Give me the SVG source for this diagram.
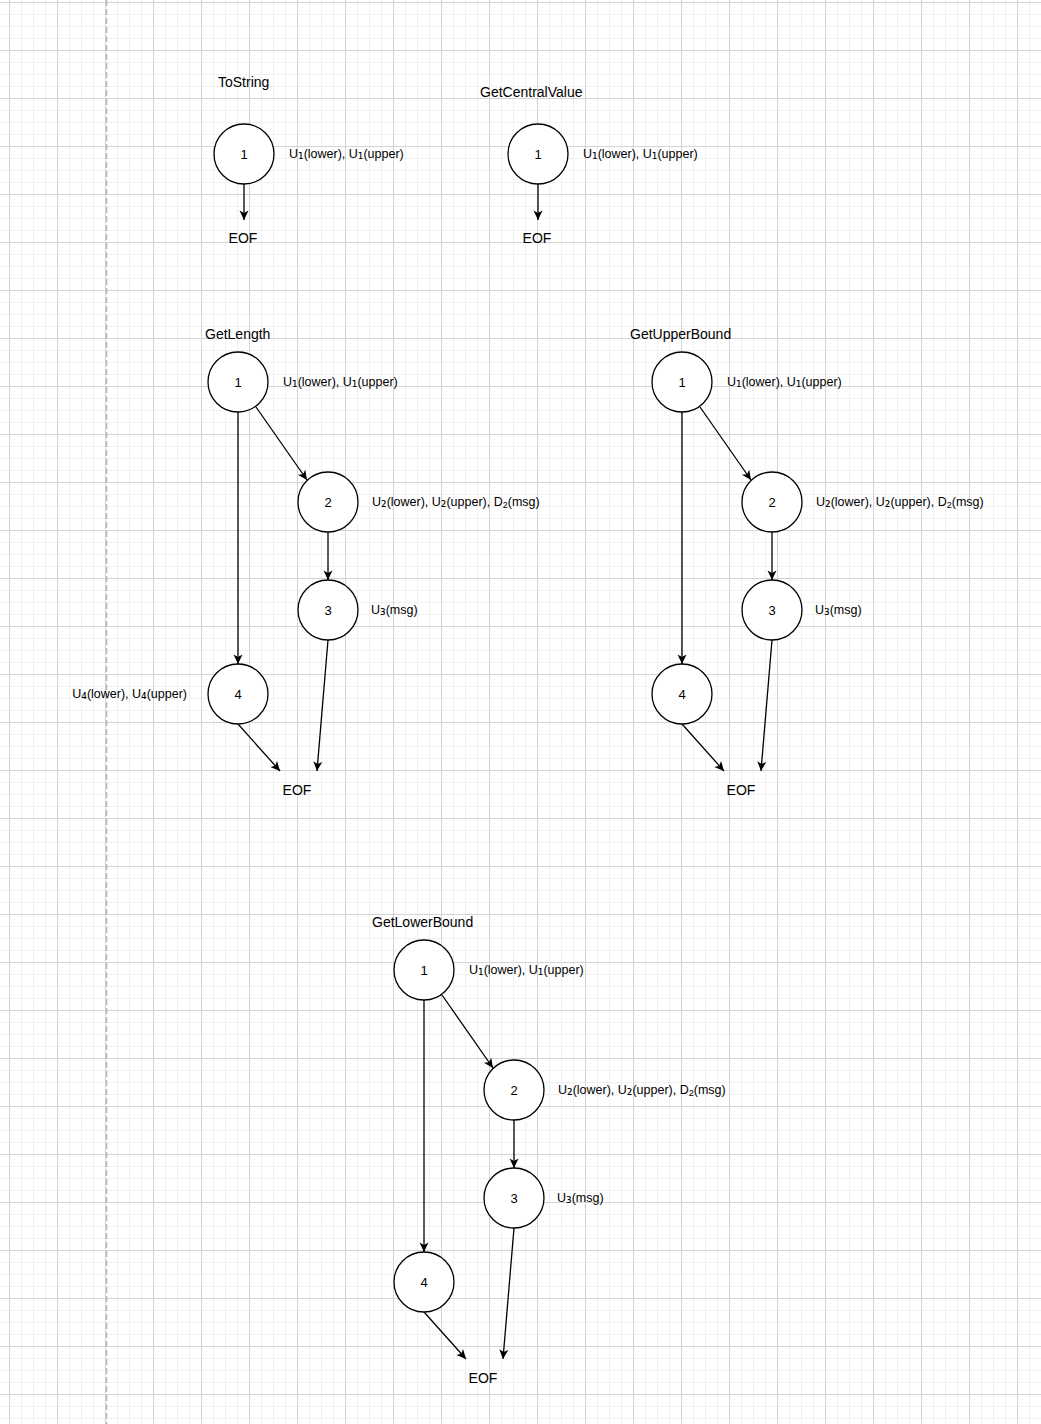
<svg xmlns="http://www.w3.org/2000/svg" width="1041" height="1424" viewBox="0 0 1041 1424">
<defs>
<pattern id="grid" x="9" y="2" width="48" height="48" patternUnits="userSpaceOnUse">
<rect x="0" y="0" width="48" height="48" fill="#ffffff"/>
<rect x="12" y="0" width="1" height="48" fill="#f1f1f1"/>
<rect x="24" y="0" width="1" height="48" fill="#f1f1f1"/>
<rect x="36" y="0" width="1" height="48" fill="#f1f1f1"/>
<rect x="0" y="12" width="48" height="1" fill="#f1f1f1"/>
<rect x="0" y="24" width="48" height="1" fill="#f1f1f1"/>
<rect x="0" y="36" width="48" height="1" fill="#f1f1f1"/>
<rect x="0" y="0" width="1" height="48" fill="#d4d4d4"/>
<rect x="0" y="0" width="48" height="1" fill="#d4d4d4"/>
</pattern>
<marker id="arr" viewBox="-10 -5 11 10" refX="0" refY="0" markerWidth="11" markerHeight="10" markerUnits="userSpaceOnUse" orient="auto">
<path d="M-9.5,-4.5 L0,0 L-9.5,4.5 L-7,0 Z" fill="#000"/>
</marker>
<style>
.n{fill:#fff;stroke:#000;stroke-width:1.3}
.e{stroke:#000;stroke-width:1.3;fill:none;marker-end:url(#arr)}
text{font-family:"Liberation Sans",Arial,sans-serif;fill:#000}
.num{font-size:13px;text-anchor:middle;dominant-baseline:central}
.lbl{font-size:12.5px;dominant-baseline:central}
.ttl{font-size:14px;dominant-baseline:central}
.eof{font-size:14px;text-anchor:middle;dominant-baseline:central}
.s{font-size:9px}
.u{font-family:"DejaVu Sans",sans-serif;font-size:14px}
</style>
</defs>
<rect x="0" y="0" width="1041" height="1424" fill="url(#grid)"/>
<line x1="106.5" y1="0" x2="106.5" y2="1424" stroke="#b8b8b8" stroke-width="1.6" stroke-dasharray="6 3"/>

<g id="connectors">
<line class="e" x1="244" y1="184" x2="244" y2="220"/>
<line class="e" x1="538" y1="184" x2="538" y2="220"/>

<line class="e" x1="238" y1="412" x2="238" y2="664"/>
<line class="e" x1="256" y1="407" x2="307" y2="480"/>
<line class="e" x1="328" y1="532" x2="328" y2="580"/>
<line class="e" x1="328" y1="640" x2="317" y2="771"/>
<line class="e" x1="238" y1="724" x2="280" y2="771"/>

<line class="e" x1="682" y1="412" x2="682" y2="664"/>
<line class="e" x1="700" y1="407" x2="751" y2="480"/>
<line class="e" x1="772" y1="532" x2="772" y2="580"/>
<line class="e" x1="772" y1="640" x2="761" y2="771"/>
<line class="e" x1="682" y1="724" x2="724" y2="771"/>

<line class="e" x1="424" y1="1000" x2="424" y2="1252"/>
<line class="e" x1="442" y1="995" x2="493" y2="1068"/>
<line class="e" x1="514" y1="1120" x2="514" y2="1168"/>
<line class="e" x1="514" y1="1228" x2="503" y2="1359"/>
<line class="e" x1="424" y1="1312" x2="466" y2="1359"/>
</g>

<g id="tostring">
<text class="ttl" x="218" y="82">ToString</text>
<g id="ts-1"><circle class="n" cx="244" cy="154" r="30"/><text class="num" x="244" y="154">1</text></g>
<text class="lbl" x="289" y="154">U<tspan class="u">₁</tspan>(lower), U<tspan class="u">₁</tspan>(upper)</text>
<text id="ts-eof" class="eof" x="243" y="238">EOF</text>
</g>

<g id="getcentralvalue">
<text class="ttl" x="480" y="92">GetCentralValue</text>
<g id="gc-1"><circle class="n" cx="538" cy="154" r="30"/><text class="num" x="538" y="154">1</text></g>
<text class="lbl" x="583" y="154">U<tspan class="u">₁</tspan>(lower), U<tspan class="u">₁</tspan>(upper)</text>
<text id="gc-eof" class="eof" x="537" y="238">EOF</text>
</g>

<g id="getlength">
<text class="ttl" x="205" y="334">GetLength</text>
<g id="gl-1"><circle class="n" cx="238" cy="382" r="30"/><text class="num" x="238" y="382">1</text></g>
<text class="lbl" x="283" y="382">U<tspan class="u">₁</tspan>(lower), U<tspan class="u">₁</tspan>(upper)</text>
<g id="gl-2"><circle class="n" cx="328" cy="502" r="30"/><text class="num" x="328" y="502">2</text></g>
<text class="lbl" x="372" y="502">U<tspan class="u">₂</tspan>(lower), U<tspan class="u">₂</tspan>(upper), D<tspan class="s" dy="3">2</tspan><tspan dy="-3">(msg)</tspan></text>
<g id="gl-3"><circle class="n" cx="328" cy="610" r="30"/><text class="num" x="328" y="610">3</text></g>
<text class="lbl" x="371" y="610">U<tspan class="u">₃</tspan>(msg)</text>
<g id="gl-4"><circle class="n" cx="238" cy="694" r="30"/><text class="num" x="238" y="694">4</text></g>
<text class="lbl" x="187" y="694" text-anchor="end">U<tspan class="u">₄</tspan>(lower), U<tspan class="u">₄</tspan>(upper)</text>
<text id="gl-eof" class="eof" x="297" y="790">EOF</text>
</g>

<g id="getupperbound">
<text class="ttl" x="630" y="334">GetUpperBound</text>
<g id="gu-1"><circle class="n" cx="682" cy="382" r="30"/><text class="num" x="682" y="382">1</text></g>
<text class="lbl" x="727" y="382">U<tspan class="u">₁</tspan>(lower), U<tspan class="u">₁</tspan>(upper)</text>
<g id="gu-2"><circle class="n" cx="772" cy="502" r="30"/><text class="num" x="772" y="502">2</text></g>
<text class="lbl" x="816" y="502">U<tspan class="u">₂</tspan>(lower), U<tspan class="u">₂</tspan>(upper), D<tspan class="s" dy="3">2</tspan><tspan dy="-3">(msg)</tspan></text>
<g id="gu-3"><circle class="n" cx="772" cy="610" r="30"/><text class="num" x="772" y="610">3</text></g>
<text class="lbl" x="815" y="610">U<tspan class="u">₃</tspan>(msg)</text>
<g id="gu-4"><circle class="n" cx="682" cy="694" r="30"/><text class="num" x="682" y="694">4</text></g>
<text id="gu-eof" class="eof" x="741" y="790">EOF</text>
</g>

<g id="getlowerbound">
<text class="ttl" x="372" y="922">GetLowerBound</text>
<g id="gb-1"><circle class="n" cx="424" cy="970" r="30"/><text class="num" x="424" y="970">1</text></g>
<text class="lbl" x="469" y="970">U<tspan class="u">₁</tspan>(lower), U<tspan class="u">₁</tspan>(upper)</text>
<g id="gb-2"><circle class="n" cx="514" cy="1090" r="30"/><text class="num" x="514" y="1090">2</text></g>
<text class="lbl" x="558" y="1090">U<tspan class="u">₂</tspan>(lower), U<tspan class="u">₂</tspan>(upper), D<tspan class="s" dy="3">2</tspan><tspan dy="-3">(msg)</tspan></text>
<g id="gb-3"><circle class="n" cx="514" cy="1198" r="30"/><text class="num" x="514" y="1198">3</text></g>
<text class="lbl" x="557" y="1198">U<tspan class="u">₃</tspan>(msg)</text>
<g id="gb-4"><circle class="n" cx="424" cy="1282" r="30"/><text class="num" x="424" y="1282">4</text></g>
<text id="gb-eof" class="eof" x="483" y="1378">EOF</text>
</g>
</svg>
